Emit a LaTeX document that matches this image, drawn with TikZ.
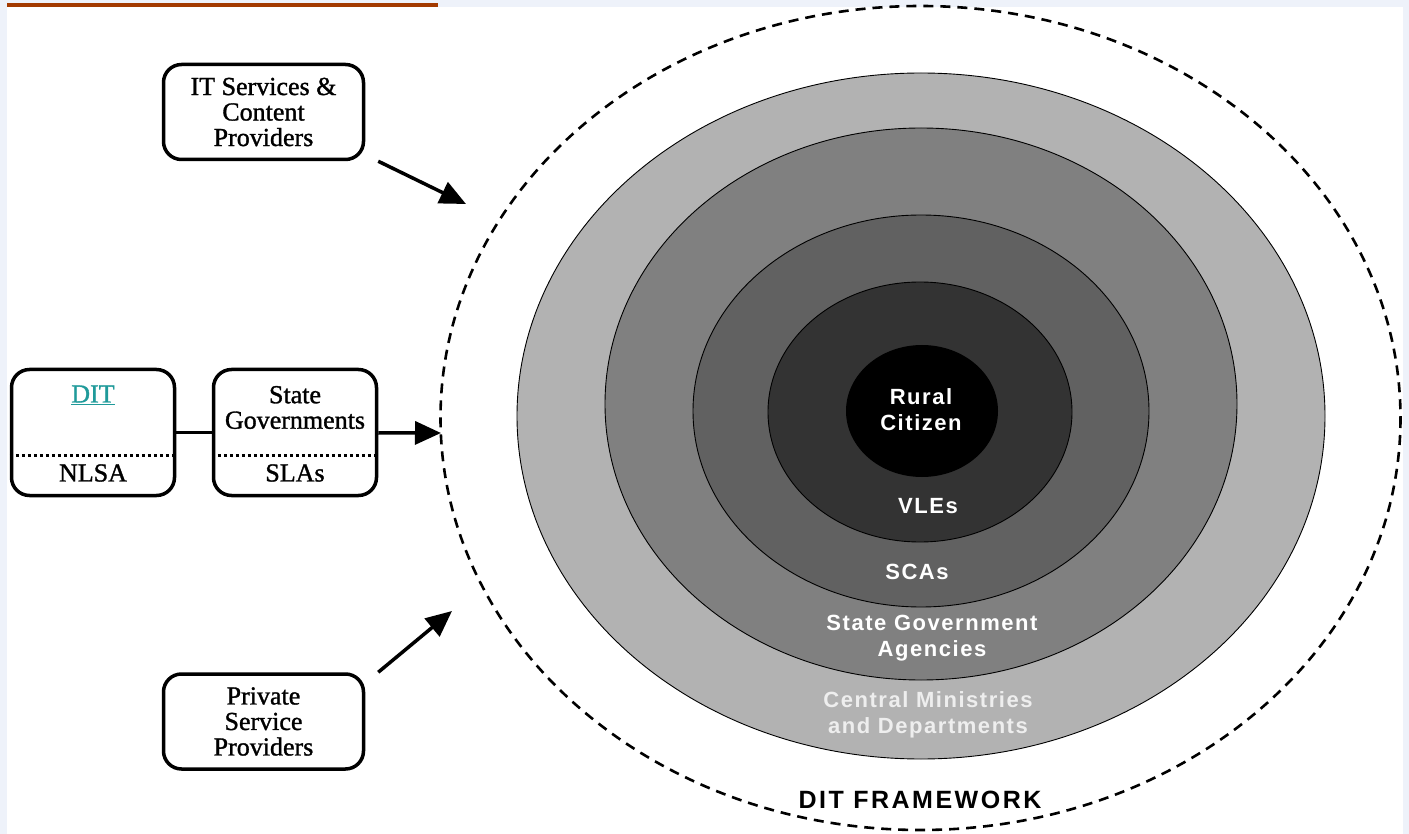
\documentclass[tikz,border=0pt]{standalone}
\usepackage{fontspec}
\setmainfont[FakeBold=1.2]{Liberation Serif}
\newfontfamily\ringfont[LetterSpace=7]{Liberation Sans}
\newfontfamily\framefont[LetterSpace=10]{Liberation Sans}
\usepackage{tkz-euclide}
\usetikzlibrary{arrows.meta,calc}

\definecolor{pagebg}{HTML}{EEF2FA}
\definecolor{headbar}{HTML}{A33A00}
\definecolor{ringA}{HTML}{B2B2B2}
\definecolor{ringB}{HTML}{808080}
\definecolor{ringC}{HTML}{616161}
\definecolor{ringD}{HTML}{333333}
\definecolor{paleword}{HTML}{EEEEEE}
\definecolor{ditlink}{HTML}{1F9A9A}

\begin{document}
\begin{tikzpicture}[x=1pt,y=-1pt,
    stake/.style={draw,line width=3.5pt,rounded corners=18pt,minimum width=200pt,
      minimum height=95pt,align=center,font=\fontsize{26}{25.5}\selectfont},
    split/.style={stake,minimum width=163pt,minimum height=126pt},
    divider/.style={line width=3pt,dash pattern=on 3pt off 3pt},
    feed/.style={line width=3.5pt,-{Triangle[length=26pt,width=23pt]}},
    ring/.style={draw=black,line width=0.9pt},
    ringlabel/.style={text=white,align=center,
      font=\ringfont\bfseries\fontsize{22}{26}\selectfont}]
  % page
  \fill[pagebg] (0,0) rectangle (1409,834);
  \fill[white] (7,7) rectangle (1403,834);
  \useasboundingbox (0,0) rectangle (1409,834);
  \fill[headbar] (7,3) rectangle (438,7);

  % rings of the framework
  \draw[dash pattern=on 10pt off 7pt,line width=2.6pt] (920.5,418) ellipse [x radius=480,y radius=412];
  \draw[ring,fill=ringA] (921,416) ellipse [x radius=404,y radius=343];
  \draw[ring,fill=ringB] (921,404) ellipse [x radius=316,y radius=276];
  \draw[ring,fill=ringC] (921,411) ellipse [x radius=228,y radius=196];
  \draw[ring,fill=ringD] (920,412) ellipse [x radius=152,y radius=130];
  \fill[black] (922,411) ellipse [x radius=76,y radius=66];

  \node[ringlabel] (rural) at (921,410) {Rural\\Citizen};
  \node[ringlabel] (vle) at (928,506) {VLEs};
  \node[ringlabel] (sca) at (917,572) {SCAs};
  \node[ringlabel] (sga) at (932,638.5) {State Government\\Agencies};
  \node[ringlabel,text=paleword] (cmd) at (928,715) {Central Ministries\\and Departments};
  \node[font=\framefont\bfseries\fontsize{25}{30}\selectfont] (frame) at (920,800) {DIT FRAMEWORK};

  % stakeholders
  \node[stake] (itsp) at (263.5,112) {IT Services \&\\Content\\Providers};
  \node[stake] (psp) at (263.5,721.5) {Private\\Service\\Providers};
  \node[split] (dit) at (93,432.5) {};
  \node[split] (stgov) at (295,432.5) {};
  \draw[divider] ($(dit.west)+(0,22.5)$) -- ($(dit.east)+(0,22.5)$);
  \draw[divider] ($(stgov.west)+(0,22.5)$) -- ($(stgov.east)+(0,22.5)$);
  \node[text=ditlink,font=\fontsize{26}{25.5}\selectfont] (ditname) at (93,395) {\underline{DIT}};
  \node[font=\fontsize{26}{25.5}\selectfont] (nlsa) at (93,473) {NLSA};
  \node[align=center,font=\fontsize{26}{25.5}\selectfont] (sgname) at (295,407.5) {State\\Governments};
  \node[font=\fontsize{26}{25.5}\selectfont] (sla) at (295,473) {SLAs};

  \tkzDefPoints{466/204/T,441/433/M,452/611/L}
  \draw[line width=3.5pt] (dit) -- (stgov);
  \draw[feed] (stgov) -- (M);
  \draw[feed] ([xshift=13pt]itsp.south east) -- (T);
  \draw[feed] ([xshift=13pt]psp.north east) -- (L);
\end{tikzpicture}
\end{document}
